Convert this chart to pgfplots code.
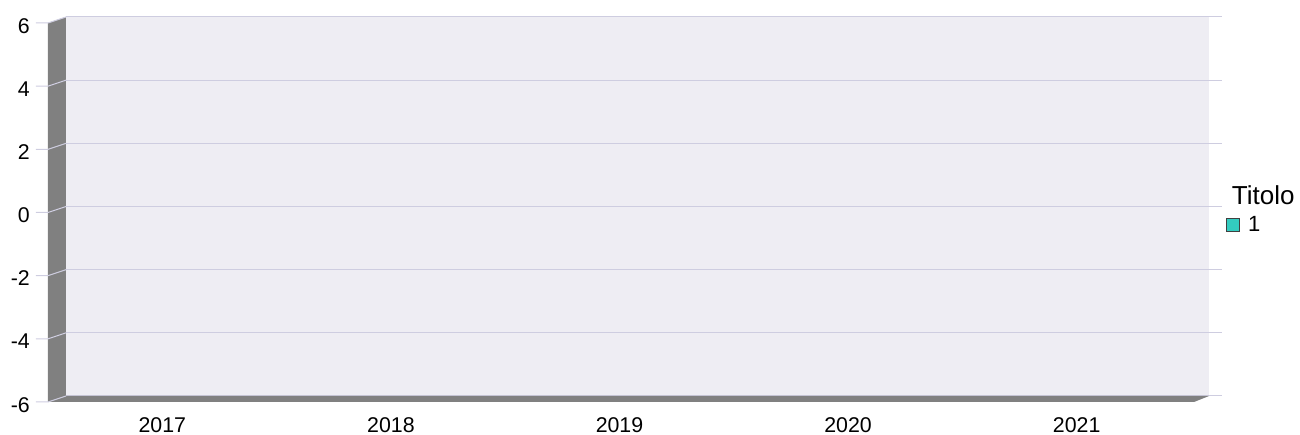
\documentclass[border=0pt]{standalone}
\usepackage{fontspec}
\setmainfont{Liberation Sans}
\usepackage{pgfplots}
\pgfplotsset{compat=1.18}
\definecolor{wallbg}{RGB}{238,237,243}
\definecolor{gridc}{RGB}{206,205,224}
\definecolor{side}{RGB}{128,128,128}
\definecolor{teal1}{RGB}{51,204,192}
\begin{document}
\begin{tikzpicture}
\begin{axis}[name=ax, scale only axis, width=857.25pt, height=284.25pt,
  xmin=-0.5, xmax=4.5, ymin=-6, ymax=6,
  xtick={0,1,2,3,4}, xticklabels={2017,2018,2019,2020,2021},
  ytick={-6,-4,-2,0,2,4,6}, yticklabels={-6,-4,-2,0,2,4,6},
  axis line style={draw=none}, major tick length=0pt,
  ymajorgrids, grid style={gridc, line width=0.75pt},
  axis background/.style={fill=wallbg},
  clip=false,
  tick label style={font=\fontsize{16}{19}\selectfont},
  yticklabel style={anchor=east, inner sep=0pt, xshift=-27pt, yshift=-6.5pt},
  xticklabel style={anchor=north, inner sep=0pt, xshift=-13.5pt, yshift=-16pt},
  legend style={draw=none, fill=none, at={(rel axis cs:1,0.451)}, anchor=west,
    xshift=12.5pt, font=\fontsize{16.5}{19}\selectfont, inner sep=0pt},
  legend image code/.code={\draw[#1] (0pt,-5pt) rectangle (10pt,5pt); \path (14pt,0pt);},
]
\addlegendimage{fill=teal1, draw=black!75, line width=0.6pt}
\addlegendentry{1}
% side wall and floor
\fill[side] (rel axis cs:0,0) -- (rel axis cs:0,1) -- ++(-13.5pt,-4.5pt) -- ++(0pt,-284.25pt) -- cycle;
\fill[side] (rel axis cs:0,0) -- (rel axis cs:1,0) -- ++(-11.25pt,-4.5pt) -- ++(-859.5pt,0pt) -- cycle;
\pgfplotsinvokeforeach{-6,-4,-2,0,2,4,6}{
  \draw[gridc, line width=0.75pt] (axis cs:-0.5,#1) -- ++(-13.5pt,-4.5pt) -- ++(-9pt,0pt);
  \draw[gridc, line width=0.75pt] (axis cs:4.5,#1) -- ++(9.75pt,0pt);
}
\node[anchor=west, inner sep=0pt, font=\fontsize{19.5}{23}\selectfont] at ([xshift=17pt]rel axis cs:1,0.53) {Titolo};
\end{axis}
\pgfresetboundingbox
\path ([xshift=-49.5pt,yshift=-29.25pt]ax.south west) rectangle ++(975pt,326.25pt);
\end{tikzpicture}
\end{document}
